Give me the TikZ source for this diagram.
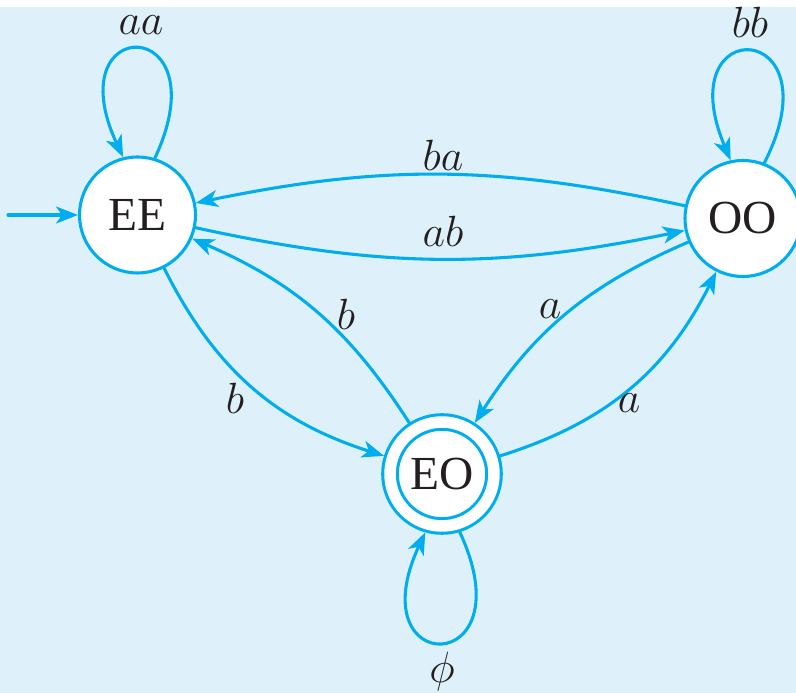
\documentclass[tikz,border=0pt]{standalone}
\usepackage{fontspec}
\setmainfont{Liberation Serif}
\usepackage{tikz}
\usetikzlibrary{arrows.meta}
\definecolor{stateBlue}{RGB}{0,174,239}
\definecolor{paneBlue}{RGB}{222,241,251}
\definecolor{inkGray}{RGB}{35,31,32}

\begin{document}
\begin{tikzpicture}[
  line cap=round,
  line join=round,
  x=0.02cm, y=0.02cm,
  every node/.style={font=\fontsize{24.88}{30}\selectfont, text=inkGray},
  trans/.style={draw=stateBlue, line width=1.75pt, -{Stealth[length=4.4mm, width=3.4mm, inset=1.2mm]}}
]

% ---------- node styles ----------
\tikzset{
  stateNode/.style={circle, draw=stateBlue, line width=1.75pt, fill=white, minimum size=23.2mm, inner sep=0pt, font=\fontsize{27}{30}\selectfont},
  finalNode/.style={stateNode, minimum size=20.8mm, double=white, double distance=2.3mm, outer sep=1.75mm},
  symNode/.style={inner sep=1pt}
}

% ---------- backdrop ----------
\useasboundingbox (0,0) rectangle (796,693);
\fill[paneBlue] (0,0) rectangle (796,686);

% ---------- states ----------
\node[stateNode] (EE) at (137.5,478) {EE};
\node[stateNode] (OO) at (743,474.5) {OO};
\node[finalNode] (EO) at (442,219) {EO};
\coordinate (start) at (8,478);

% ---------- transitions ----------
\draw[trans] (start) -- (EE);
\draw[trans] (EE.73) .. controls +(65:160) and +(115:160) .. (EE.104);
\draw[trans] (OO.69) .. controls +(63:162) and +(113:162) .. (OO.102);
\draw[trans] (EO.287) .. controls +(-65:162) and +(-115:162) .. (EO.254);
\draw[trans] (EE) to[bend right=12] (OO);
\draw[trans] (OO) to[bend right=12] (EE);
\draw[trans] (EE) to[bend right=23] (EO);
\draw[trans] (EO) to[bend right=17] (EE);
\draw[trans] (OO) to[bend right=17] (EO);
\draw[trans] (EO) to[bend right=23] (OO);

% ---------- symbols ----------
\node[symNode] (symAA) at (141,668) {$aa$};
\node[symNode] (symBB) at (750,671) {$bb$};
\node[symNode] (symBA) at (443,538) {$ba$};
\node[symNode] (symAB) at (443,461.5) {$ab$};
\node[symNode] (symBout) at (235,295) {$b$};
\node[symNode] (symBin) at (346,379) {$b$};
\node[symNode] (symAin) at (550,384) {$a$};
\node[symNode] (symAout) at (629,290) {$a$};
\node[symNode] (symPhi) at (442,21) {$\phi$};

\end{tikzpicture}
\end{document}
